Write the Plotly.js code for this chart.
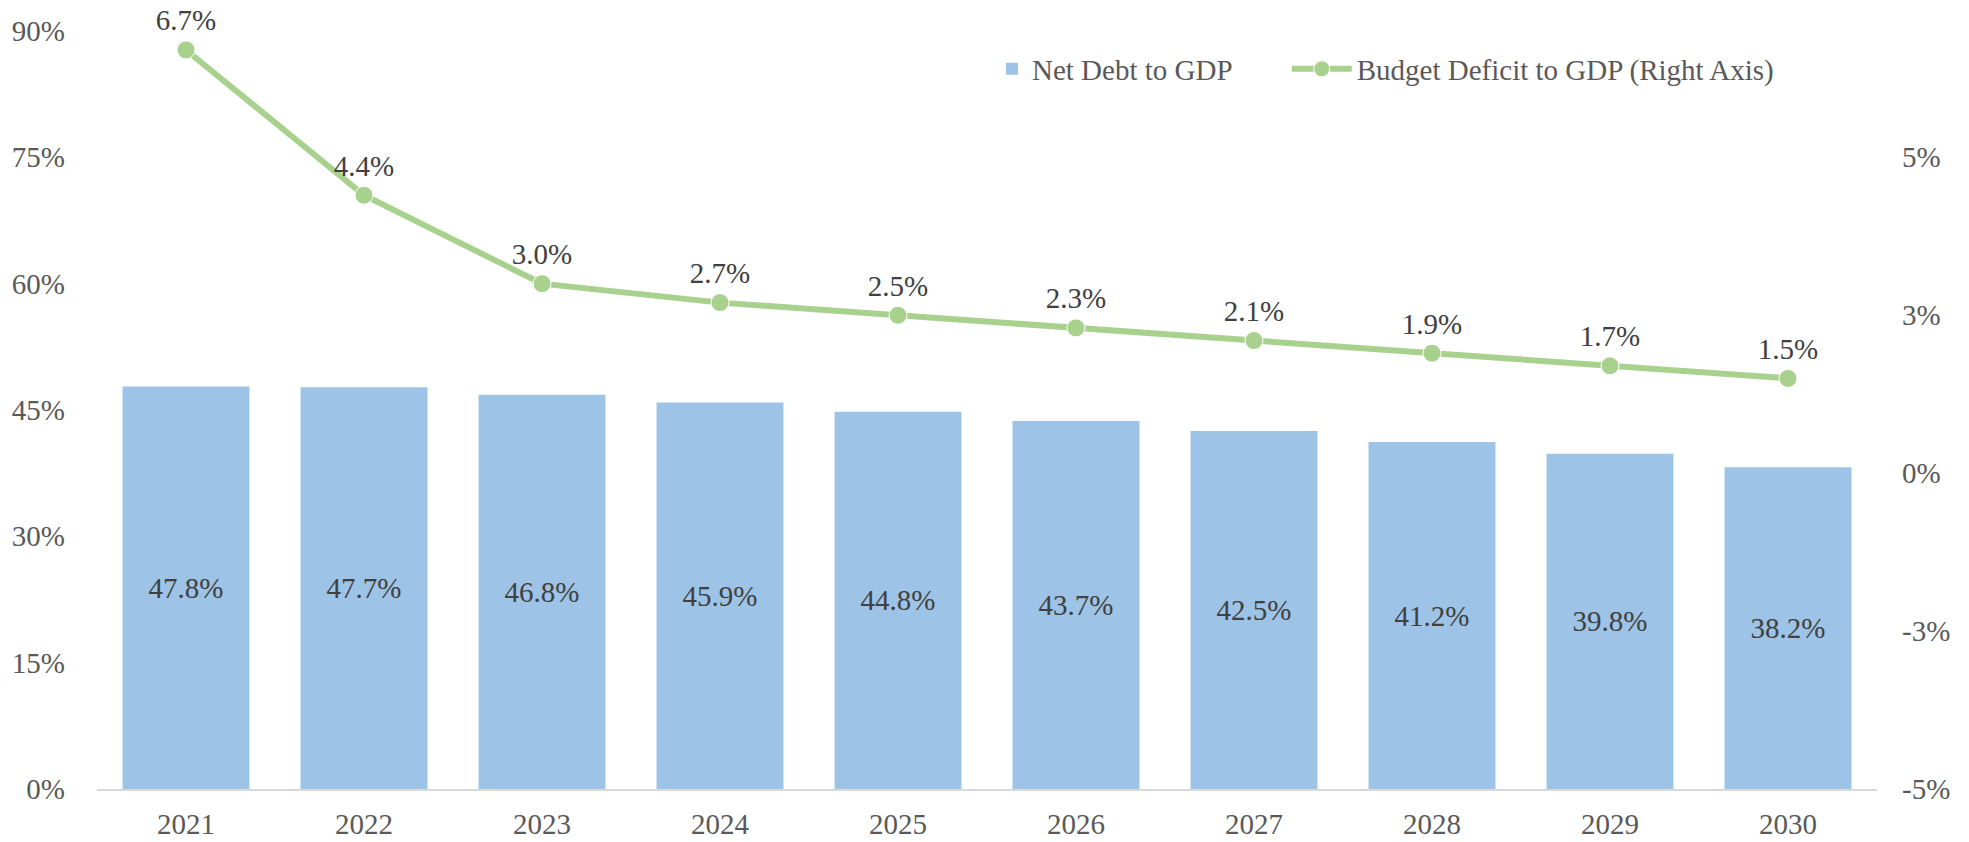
<!DOCTYPE html>
<html>
<head>
<meta charset="utf-8">
<script src="https://cdn.plot.ly/plotly-3.0.1.min.js"></script>
<style>html,body{margin:0;padding:0;background:#fff;}#chart{width:1969px;height:842px;}</style>
</head>
<body>
<div id="chart"></div>
<script>
const years = ['2021','2022','2023','2024','2025','2026','2027','2028','2029','2030'];
const netDebt = [47.8, 47.7, 46.8, 45.9, 44.8, 43.7, 42.5, 41.2, 39.8, 38.2];
const deficit = [6.7, 4.4, 3.0, 2.7, 2.5, 2.3, 2.1, 1.9, 1.7, 1.5];
const leftTicks = [0, 15, 30, 45, 60, 75, 90];
const leftTickText = ['0%', '15%', '30%', '45%', '60%', '75%', '90%'];
const rightTicks = [-5, -2.5, 0, 2.5, 5];
const rightTickText = ['-5%', '-3%', '0%', '3%', '5%'];

const FONT = 'Liberation Serif, Times New Roman, serif';
const AXIS_COLOR = '#595959';
const LABEL_COLOR = '#404040';

const traces = [
  {
    type: 'bar',
    name: 'Net Debt to GDP',
    x: years,
    y: netDebt,
    marker: {color: '#9dc3e6'},
    text: netDebt.map(v => v.toFixed(1) + '%'),
    textposition: 'inside',
    insidetextanchor: 'middle',
    textangle: 0,
    insidetextfont: {family: FONT, size: 29, color: LABEL_COLOR},
    hoverinfo: 'skip',
    legend: 'legend'
  },
  {
    type: 'scatter',
    mode: 'lines+markers+text',
    name: 'Budget Deficit to GDP (Right Axis)',
    x: years,
    y: deficit,
    yaxis: 'y2',
    line: {color: '#a9d18e', width: 6},
    marker: {color: '#a9d18e', size: 18, line: {color: '#ffffff', width: 1}},
    text: deficit.map(v => v.toFixed(1) + '%'),
    textposition: 'top center',
    textfont: {family: FONT, size: 29, color: LABEL_COLOR},
    cliponaxis: false,
    hoverinfo: 'skip',
    legend: 'legend2'
  }
];

const layout = {
  width: 1969,
  height: 842,
  margin: {l: 97, r: 92, t: 31, b: 53, autoexpand: false},
  paper_bgcolor: '#ffffff',
  plot_bgcolor: '#ffffff',
  font: {family: FONT, size: 29, color: AXIS_COLOR},
  bargap: 0.287,
  showlegend: true,
  xaxis: {
    type: 'category',
    range: [-0.5, years.length - 0.5],
    automargin: false,
    showgrid: false,
    showline: true,
    linecolor: '#d9d9d9',
    linewidth: 2,
    ticks: '',
    ticklabelstandoff: 8,
    tickfont: {family: FONT, size: 29, color: AXIS_COLOR},
    zeroline: false
  },
  yaxis: {
    range: [0, 90],
    automargin: false,
    tickvals: leftTicks,
    ticktext: leftTickText,
    showgrid: false,
    zeroline: false,
    showline: false,
    ticks: '',
    ticklabelstandoff: 31,
    tickfont: {family: FONT, size: 29, color: AXIS_COLOR}
  },
  yaxis2: {
    overlaying: 'y',
    side: 'right',
    automargin: false,
    range: [-5, 7],
    tickvals: rightTicks,
    ticktext: rightTickText,
    showgrid: false,
    zeroline: false,
    showline: false,
    ticks: '',
    ticklabelstandoff: 24,
    tickfont: {family: FONT, size: 29, color: AXIS_COLOR}
  },
  legend: {
    xref: 'container', yref: 'container',
    x: 0.5038, xanchor: 'left',
    y: 1 - 69 / 842, yanchor: 'middle',
    orientation: 'h',
    bgcolor: 'rgba(0,0,0,0)',
    font: {family: FONT, size: 29, color: AXIS_COLOR}
  },
  legend2: {
    xref: 'container', yref: 'container',
    x: 0.6535, xanchor: 'left',
    y: 1 - 69 / 842, yanchor: 'middle',
    orientation: 'h',
    itemwidth: 60,
    bgcolor: 'rgba(0,0,0,0)',
    font: {family: FONT, size: 29, color: AXIS_COLOR}
  }
};

Plotly.newPlot('chart', traces, layout, {staticPlot: true, displayModeBar: false});
</script>
</body>
</html>
